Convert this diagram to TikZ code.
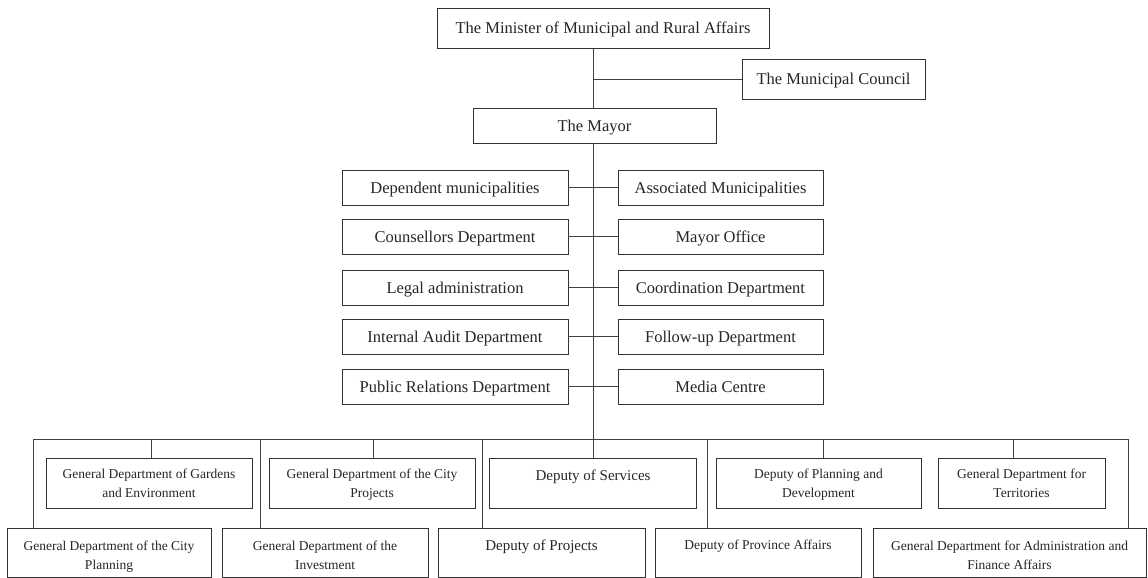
\documentclass[tikz,border=0pt]{standalone}
\usepackage{fontspec}
\setmainfont{Liberation Serif}
\newcommand{\twolines}[2]{\begin{tabular}{@{}c@{}}#1\\#2\end{tabular}}

\begin{document}
\begin{tikzpicture}[x=1pt,y=-1pt,
    box/.style={draw=black!80, line width=0.8pt, fill=white, text=black!85,
      inner sep=0pt, text height=12pt, text depth=1pt,
      font=\fontsize{16.5}{19}\selectfont},
    low/.style={box, font=\fontsize{13.5}{18.5}\selectfont,
      minimum width=#1, minimum height=50pt, text height=26pt, text depth=16pt},
    lower/.style={low=#1, minimum height=49pt, text height=28pt, text depth=13pt},
    single/.style={text height=20pt, text depth=25pt, font=\fontsize{15}{18.5}\selectfont},
    link/.style={draw=black!75, line width=0.8pt}]
      \useasboundingbox (0,0) rectangle (1148,578);
      % top of the chart
      \node[box, minimum width=332pt, minimum height=40pt] (min) at (603,28) {The Minister of Municipal and Rural Affairs};
      \node[box, minimum width=183pt, minimum height=40pt] (cou) at (833.5,79) {The Municipal Council};
      \node[box, minimum width=243pt, minimum height=35pt] (may) at (594.5,125.5) {The Mayor};
      % the two columns under the mayor
      \foreach \i/\y/\a/\b in {1/187.5/Dependent municipalities/Associated Municipalities,
          2/236.5/Counsellors Department/Mayor Office,
          3/287.5/Legal administration/Coordination Department,
          4/336.5/Internal Audit Department/Follow-up Department,
          5/386.5/Public Relations Department/Media Centre} {
        \node[box, minimum width=226pt, minimum height=35pt] (l\i) at (455,\y) {\a};
        \node[box, minimum width=205pt, minimum height=35pt] (r\i) at (720.5,\y) {\b};
      }
      % upper row of departments
      \node[low=206pt] (u1) at (149,483) {\twolines{General Department of Gardens}{and Environment}};
      \node[low=206pt] (u2) at (372,483) {\twolines{General Department of the City}{Projects}};
      \node[low=207pt, single] (u3) at (593,483) {Deputy of Services};
      \node[low=205pt] (u4) at (818.5,483) {\twolines{Deputy of Planning and}{Development}};
      \node[low=167pt] (u5) at (1021.5,483) {\twolines{General Department for}{Territories}};
      % lower row of departments
      \node[lower=204pt] (d1) at (109,552.5) {\twolines{General Department of the City}{Planning}};
      \node[lower=206pt] (d2) at (325,552.5) {\twolines{General Department of the}{Investment}};
      \node[lower=207pt, single] (d3) at (541.5,552.5) {Deputy of Projects};
      \node[lower=206pt, text height=18pt, text depth=25pt] (d4) at (758,552.5) {Deputy of Province Affairs};
      \node[lower=273pt] (d5) at (1009.5,552.5) {\twolines{General Department for Administration and}{Finance Affairs}};
      % vertical spine
      \draw[link] (min.south -| u3.north) -- (may.north -| u3.north);
      \draw[link] (may.south -| u3.north) -- (u3.north);
      % horizontal lines
      \draw[link] (cou -| u3.north) -- (cou.west);
      \foreach \i in {1,...,5}
        \draw[link] (l\i.east) -- (r\i.west);
      \coordinate (bl) at (33,439);
      \coordinate (br) at (1128,439);
      \draw[link] (bl) -- (br);
      % drops to the departments
      \foreach \x/\n in {33/d1, 260/d2, 482.7/d3, 707/d4, 1128/d5, 151/u1, 373.6/u2, 823/u4, 1013/u5}
        \draw[link] (\x,439) -- (\n.north -| \x,439);
    \end{tikzpicture}
\end{document}
